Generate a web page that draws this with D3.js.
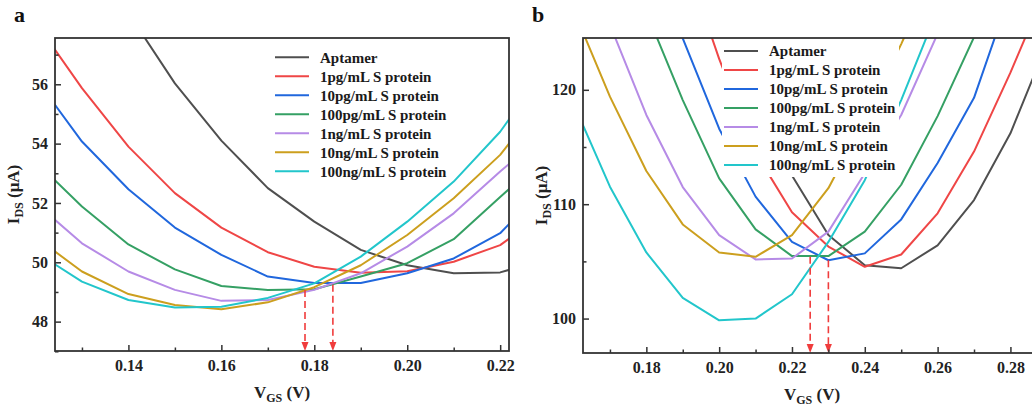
<!DOCTYPE html>
<html>
<head>
<meta charset="utf-8">
<script src="https://cdn.jsdelivr.net/npm/d3@7"></script>
<style>
body { margin: 0; background: #fff; }
svg { display: block; font-family: "Liberation Serif", "Times New Roman", serif; font-weight: bold; }
</style>
</head>
<body>
<svg id="chart" width="1032" height="412"></svg>
<script>
// legend names + line colours (shared by both panels)
var names = ["Aptamer", "1pg/mL S protein", "10pg/mL S protein", "100pg/mL S protein",
	"1ng/mL S protein", "10ng/mL S protein", "100ng/mL S protein"];
var colors = ["#4f4f4f", "#ef4646", "#2067dd", "#35a064", "#b68be6", "#cc9f1e", "#22c6cb"];

// panel a : VGS (V) vs IDS (uA)
var vgsA = [0.12, 0.13, 0.14, 0.15, 0.16, 0.17, 0.18, 0.19, 0.20, 0.21, 0.22, 0.23];
var aAptamer = [64.0, 61.0, 58.4, 56.03, 54.1, 52.5, 51.37, 50.42, 49.9, 49.63, 49.66, 50.1];
var a1pg = [58.1, 55.87, 53.9, 52.33, 51.17, 50.34, 49.85, 49.65, 49.7, 50.02, 50.58, 51.7];
var a10pg = [56.2, 54.07, 52.46, 51.17, 50.25, 49.52, 49.3, 49.3, 49.63, 50.13, 50.98, 52.6];
var a100pg = [53.4, 51.88, 50.6, 49.76, 49.2, 49.07, 49.09, 49.52, 49.97, 50.78, 52.2, 53.6];
var a1ng = [52.0, 50.64, 49.69, 49.07, 48.7, 48.73, 49.07, 49.63, 50.53, 51.65, 53.06, 54.4];
var a10ng = [50.85, 49.69, 48.93, 48.56, 48.42, 48.65, 49.16, 49.9, 50.92, 52.16, 53.62, 55.6];
var a100ng = [50.35, 49.35, 48.73, 48.48, 48.5, 48.8, 49.29, 50.19, 51.37, 52.72, 54.4, 56.6];
var arrowsA = [[0.178, 49.07], [0.184, 49.24]];
var xMajorA = [0.14, 0.16, 0.18, 0.20, 0.22];
var xMinorA = [0.13, 0.15, 0.17, 0.19, 0.21];
var yMajorA = [48, 50, 52, 54, 56];
var yMinorA = [47, 49, 51, 53, 55, 57];

// panel b
var vgsB = [0.16, 0.17, 0.18, 0.19, 0.20, 0.21, 0.22, 0.23, 0.24, 0.25, 0.26, 0.27, 0.28, 0.29];
var bAptamer = [null, null, null, null, null, 119, 112.5, 107.3, 104.67, 104.4, 106.4, 110.36, 116.2, 124.0];
var b1pg = [null, null, null, 132, 122.7, 114.5, 109.3, 106.3, 104.53, 105.6, 109.2, 114.6, 121.5, 129];
var b10pg = [null, null, 134, 124.5, 116.6, 110.66, 106.7, 105.1, 105.7, 108.67, 113.6, 119.3, 128.5, null];
var b100pg = [null, 134, 126.8, 119.1, 112.26, 107.8, 105.46, 105.46, 107.6, 111.7, 117.7, 124.6, 132, null];
var b1ng = [133, 125.7, 117.8, 111.5, 107.3, 105.17, 105.25, 107.6, 112.7, 117.8, 124.9, 132, null, null];
var b10ng = [127, 119.4, 112.9, 108.23, 105.78, 105.4, 107.3, 111.4, 117.4, 124.0, 131, null, null, null];
var b100ng = [118.8, 111.53, 105.78, 101.81, 99.85, 100.0, 102.13, 106.7, 112.1, 119.1, 127, null, null, null];
var arrowsB = [[0.225, 105.4], [0.23, 105.1]];
var xMajorB = [0.18, 0.20, 0.22, 0.24, 0.26, 0.28];
var xMinorB = [0.17, 0.19, 0.21, 0.23, 0.25, 0.27];
var yMajorB = [100, 110, 120];
var yMinorB = [105, 115];

var svg = d3.select("#chart");

renderPanel({
	id: "a", label: "a", labelX: 14, left: 55, right: 509, top: 38, bottom: 351,
	xDomain: [0.1242, 0.2219], yDomain: [47.01, 57.56],
	xs: vgsA, series: [aAptamer, a1pg, a10pg, a100pg, a1ng, a10ng, a100ng],
	xMajor: xMajorA, xMinor: xMinorA, yMajor: yMajorA, yMinor: yMinorA,
	arrows: arrowsA, legX: 275, legY: 57.3, legBox: null
});

renderPanel({
	id: "b", label: "b", labelX: 532, left: 583, right: 1041, top: 38, bottom: 353,
	xDomain: [0.1626, 0.2884], yDomain: [96.99, 124.53],
	xs: vgsB, series: [bAptamer, b1pg, b10pg, b100pg, b1ng, b10ng, b100ng],
	xMajor: xMajorB, xMinor: xMinorB, yMajor: yMajorB, yMinor: yMinorB,
	arrows: arrowsB, legX: 724, legY: 51, legBox: [722, 38, 177, 139]
});

function renderPanel(p) {
	var x = d3.scaleLinear().domain(p.xDomain).range([p.left, p.right]);
	var y = d3.scaleLinear().domain(p.yDomain).range([p.bottom, p.top]);
	var g = svg.append("g");

	g.append("clipPath").attr("id", "clip-" + p.id)
		.append("rect")
		.attr("x", p.left).attr("y", p.top)
		.attr("width", p.right - p.left).attr("height", p.bottom - p.top);

	var line = d3.line()
		.defined(function(d) { return d[1] != null; })
		.x(function(d) { return x(d[0]); })
		.y(function(d) { return y(d[1]); });

	var lines = g.append("g").attr("clip-path", "url(#clip-" + p.id + ")");
	p.series.forEach(function(s, i) {
		var pts = s.map(function(v, j) { return [p.xs[j], v]; });
		lines.append("path")
			.attr("d", line(pts))
			.attr("fill", "none")
			.attr("stroke", colors[i])
			.attr("stroke-width", 2)
			.attr("stroke-linejoin", "round");
	});

	// legend (panel b has an opaque box that hides the lines behind it)
	if (p.legBox) {
		g.append("rect")
			.attr("x", p.legBox[0]).attr("y", p.legBox[1])
			.attr("width", p.legBox[2]).attr("height", p.legBox[3])
			.attr("fill", "#fff");
	}
	var leg = g.append("g");
	names.forEach(function(n, i) {
		var ly = p.legY + i * 19;
		leg.append("line")
			.attr("x1", p.legX).attr("x2", p.legX + 34)
			.attr("y1", ly).attr("y2", ly)
			.attr("stroke", colors[i]).attr("stroke-width", 2);
		leg.append("text")
			.attr("x", p.legX + 45).attr("y", ly)
			.attr("dy", "0.35em")
			.attr("font-size", 15)
			.attr("fill", "#1a1a1a")
			.text(n);
	});

	// dashed red arrows
	p.arrows.forEach(function(a) {
		var ax = x(a[0]);
		g.append("line")
			.attr("x1", ax).attr("x2", ax)
			.attr("y1", y(a[1])).attr("y2", p.bottom - 7)
			.attr("stroke", "#f03c3c").attr("stroke-width", 1.6)
			.attr("stroke-dasharray", "7,4");
		g.append("path")
			.attr("d", "M" + (ax - 3.5) + "," + (p.bottom - 9) + "L" + (ax + 3.5) + "," + (p.bottom - 9) + "L" + ax + "," + p.bottom + "Z")
			.attr("fill", "#f03c3c");
	});

	// axes, ticks pointing inwards
	g.append("g").attr("transform", "translate(0," + p.bottom + ")")
		.call(d3.axisBottom(x).tickValues(p.xMajor).tickSize(-6).tickPadding(9).tickFormat(d3.format(".2f")));
	g.append("g").attr("transform", "translate(0," + p.bottom + ")")
		.call(d3.axisBottom(x).tickValues(p.xMinor).tickSize(-3.5).tickFormat(""));
	g.append("g").attr("transform", "translate(" + p.left + ",0)")
		.call(d3.axisLeft(y).tickValues(p.yMajor).tickSize(-6).tickPadding(7).tickFormat(d3.format("d")));
	g.append("g").attr("transform", "translate(" + p.left + ",0)")
		.call(d3.axisLeft(y).tickValues(p.yMinor).tickSize(-3.5).tickFormat(""));

	g.selectAll(".domain").remove();
	g.selectAll(".tick line").attr("stroke", "#333").attr("stroke-width", 1.5);
	g.selectAll(".tick text")
		.attr("font-family", "Liberation Serif, Times New Roman, serif")
		.attr("font-weight", "bold")
		.attr("font-size", 16)
		.attr("fill", "#222");

	g.append("rect")
		.attr("x", p.left).attr("y", p.top)
		.attr("width", p.right - p.left).attr("height", p.bottom - p.top)
		.attr("fill", "none").attr("stroke", "#333").attr("stroke-width", 1.8);

	// axis titles
	var xt = g.append("text")
		.attr("x", (p.left + p.right) / 2).attr("y", p.bottom + 47)
		.attr("text-anchor", "middle").attr("font-size", 17).attr("fill", "#222");
	xt.append("tspan").text("V");
	xt.append("tspan").attr("font-size", 12).attr("dy", 4).text("GS");
	xt.append("tspan").attr("dy", -4).text(" (V)");

	var cy = (p.top + p.bottom) / 2;
	var yt = g.append("text")
		.attr("transform", "translate(" + (p.left - 36) + "," + cy + ") rotate(-90)")
		.attr("text-anchor", "middle").attr("font-size", 17).attr("fill", "#222");
	yt.append("tspan").text("I");
	yt.append("tspan").attr("font-size", 12).attr("dy", 4).text("DS");
	yt.append("tspan").attr("dy", -4).text(" (\u03bcA)");

	g.append("text")
		.attr("x", p.labelX).attr("y", 22)
		.attr("font-size", 22).attr("fill", "#111")
		.text(p.label);
}
</script>
</body>
</html>
